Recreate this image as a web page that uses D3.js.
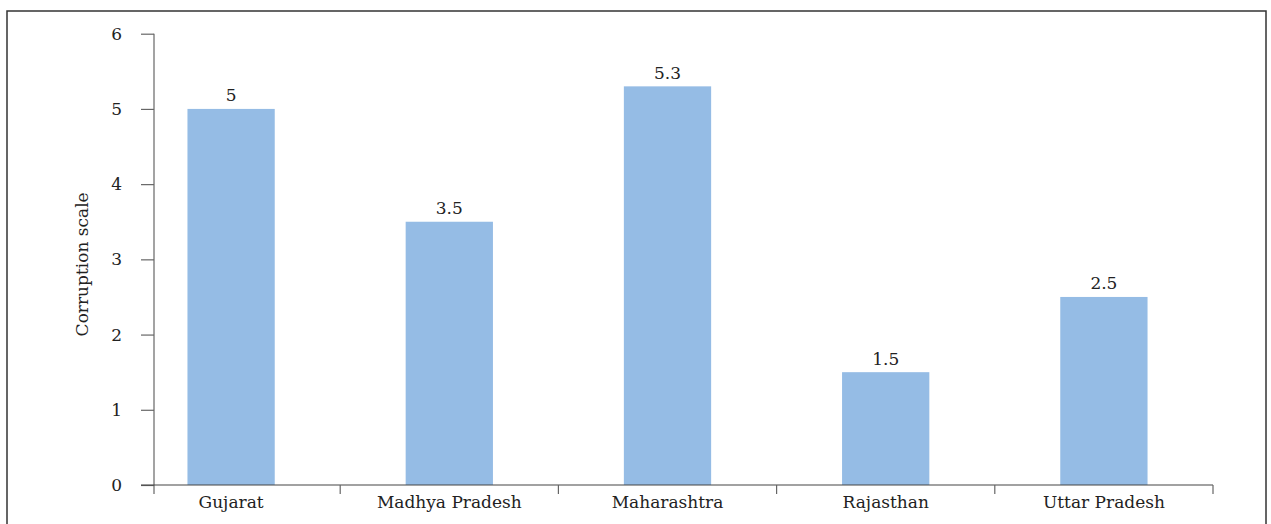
<!DOCTYPE html>
<html>
<head>
<meta charset="utf-8">
<script src="https://cdn.jsdelivr.net/npm/d3@7"></script>
<style>
  html, body { margin: 0; padding: 0; background: #fff; }
  svg { display: block; }
  text { font-family: "DejaVu Serif", serif; fill: #222; }
</style>
</head>
<body>
<svg id="chart" width="1271" height="524"></svg>
<script>
// Corruption scale by state
const states = ["Gujarat", "Madhya Pradesh", "Maharashtra", "Rajasthan", "Uttar Pradesh"];
const scores = [5, 3.5, 5.3, 1.5, 2.5];
const yTicks = [0, 1, 2, 3, 4, 5, 6];

const svg = d3.select("#chart");
const FS = 17;

// outer frame (bottom edge runs past the visible area)
svg.append("rect")
  .attr("x", 7).attr("y", 11)
  .attr("width", 1259).attr("height", 600)
  .attr("fill", "none").attr("stroke", "#333").attr("stroke-width", 1.5);

const axisX = 154, baseY = 485, topY = 33.7;
const x = d3.scaleBand().domain(states).range([122, 1213])
  .paddingInner(0.6).paddingOuter(0.3);
const y = d3.scaleLinear().domain([0, 6]).range([baseY, topY]);

// bars
svg.append("g").selectAll("rect").data(states).join("rect")
  .attr("x", d => x(d))
  .attr("y", (d, i) => y(scores[i]))
  .attr("width", x.bandwidth())
  .attr("height", (d, i) => y(0) - y(scores[i]))
  .attr("fill", "#95bce5");

// value labels
svg.append("g").selectAll("text").data(states).join("text")
  .attr("x", d => x(d) + x.bandwidth() / 2)
  .attr("y", (d, i) => y(scores[i]) - 7.5)
  .attr("text-anchor", "middle")
  .attr("font-size", FS)
  .text((d, i) => scores[i]);

// y axis
const yAxis = d3.axisLeft(y).tickValues(yTicks).tickSize(13).tickPadding(19)
  .tickFormat(d3.format("d"));
const gy = svg.append("g").attr("transform", `translate(${axisX},0)`).call(yAxis);
gy.select(".domain").remove();
gy.selectAll(".tick line").attr("stroke", "#666").attr("stroke-width", 1.2);
gy.selectAll(".tick text").attr("font-size", FS).attr("font-family", "DejaVu Serif").attr("fill", "#222");
svg.append("line")
  .attr("x1", axisX).attr("x2", axisX)
  .attr("y1", topY).attr("y2", baseY + 9)
  .attr("stroke", "#666").attr("stroke-width", 1.2);

// x axis baseline and category boundary ticks
const step = x.step();
const xStart = x.range()[0];
svg.append("line")
  .attr("x1", 141).attr("x2", 1213)
  .attr("y1", baseY).attr("y2", baseY)
  .attr("stroke", "#444").attr("stroke-width", 1.2);
svg.append("g").selectAll("line").data(states).join("line")
  .attr("x1", (d, i) => xStart + step * (i + 1))
  .attr("x2", (d, i) => xStart + step * (i + 1))
  .attr("y1", baseY).attr("y2", baseY + 9)
  .attr("stroke", "#666").attr("stroke-width", 1.2);

// category labels
svg.append("g").selectAll("text").data(states).join("text")
  .attr("x", d => x(d) + x.bandwidth() / 2)
  .attr("y", 508)
  .attr("text-anchor", "middle")
  .attr("font-size", FS)
  .text(d => d);

// y axis title
svg.append("text")
  .attr("transform", `translate(88,${(baseY + topY) / 2 + 5}) rotate(-90)`)
  .attr("text-anchor", "middle")
  .attr("font-size", FS)
  .text("Corruption scale");
</script>
</body>
</html>
